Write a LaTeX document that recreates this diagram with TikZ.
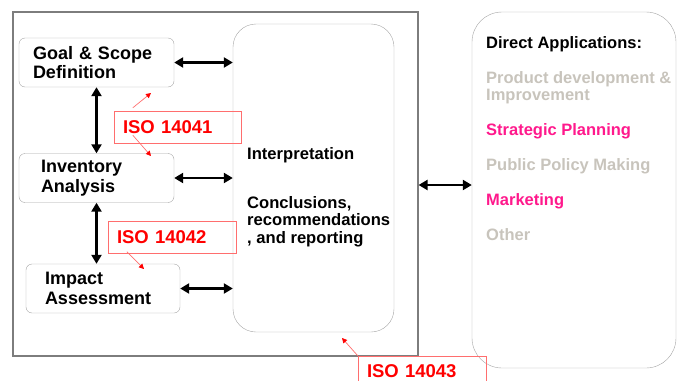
\documentclass[tikz,border=0pt]{standalone}
\usepackage{fontspec}
\setmainfont{Liberation Sans}
\usetikzlibrary{arrows.meta}

\definecolor{framegray}{RGB}{125,125,125}
\definecolor{boxgray}{RGB}{165,165,165}
\definecolor{palegray}{RGB}{200,196,188}
\definecolor{hotpink}{RGB}{255,25,140}
\definecolor{isored}{RGB}{255,0,0}
\definecolor{isoline}{RGB}{255,110,110}

\tikzset{
  stage/.style={draw=boxgray, rounded corners=6pt, minimum height=49pt, align=left,
    inner ysep=0pt, font=\fontsize{18}{19.5}\selectfont\bfseries},
  isobox/.style={draw=isoline, minimum height=32pt, align=left, inner xsep=9pt,
    text=isored, font=\fontsize{18.5}{20}\selectfont\bfseries},
  link/.style={line width=2.8pt,
    {Triangle[length=9pt,width=10pt]}-{Triangle[length=9pt,width=10pt]}},
  isoarrow/.style={isoline, line width=0.7pt,
    -{Triangle[length=5pt,width=5pt,color=isored]}}
}

\begin{document}
\begin{tikzpicture}[x=1pt,y=-1pt]
    \clip (0,0) rectangle (677,380);
    \node[draw=framegray, line width=1.2pt, minimum width=405pt, minimum height=344pt] (frame) at (215.5,184) {};

    % phases
    \node[stage, text width=127pt, inner xsep=14pt] (goal) at (96.5,62.5) {Goal \& Scope\\Definition};
    \node[stage, text width=111pt, inner xsep=22pt] (inventory) at (96.5,178) {Inventory\\Analysis};
    \node[stage, text width=116pt, inner xsep=19pt] (impact) at (103,288.5) {Impact\\Assessment};

    \node[draw=boxgray, rounded corners=23pt, minimum width=161pt, minimum height=308pt] (interp) at (313.5,178) {};
    \node[anchor=north west, inner sep=0pt, align=left, font=\fontsize{16.6}{17.5}\selectfont\bfseries] (interptext) at (247,147)
        {Interpretation\\[31.5pt]Conclusions,\\recommendations\\, and reporting};

    \node[draw=boxgray, rounded corners=30pt, minimum width=204pt, minimum height=356pt] (apps) at (574,190) {};
    \node[anchor=north west, inner sep=0pt, align=left, font=\fontsize{16.5}{17.5}\selectfont\bfseries] (appstext) at (486,36)
        {Direct Applications:\\[17.5pt]
         \textcolor{palegray}{Product development \&}\\
         \textcolor{palegray}{Improvement}\\[17.5pt]
         \textcolor{hotpink}{Strategic Planning}\\[17.5pt]
         \textcolor{palegray}{Public Policy Making}\\[17.5pt]
         \textcolor{hotpink}{Marketing}\\[17.5pt]
         \textcolor{palegray}{Other}};

    % links
    \draw[link] (goal.east) -- (goal.east -| interp.west);
    \draw[link] (inventory.east) -- (inventory.east -| interp.west);
    \draw[link] (impact.east) -- (impact.east -| interp.west);
    \draw[link] (goal.south) -- (inventory.north);
    \draw[link] (inventory.south) -- (inventory.south |- impact.north);
    \coordinate (appsrow) at (0,185);
    \draw[link] (frame.east |- appsrow) -- (apps.west |- appsrow);

    % standards
    \node[isobox, text width=109pt] (isoA) at (177.5,127) {ISO 14041};
    \node[isobox, text width=110pt] (isoB) at (172,237.5) {ISO 14042};
    \node[isobox, text width=110pt, minimum height=30pt] (isoC) at (422,371) {ISO 14043};
    \coordinate (isoAup) at (151,93);
    \coordinate (isoAdown) at (151,156);
    \coordinate (isoBdown) at (144,269);
    \coordinate (isoCup) at (342,338);
    \draw[isoarrow] ([xshift=19pt,yshift=3pt]isoA.north west) -- (isoAup);
    \draw[isoarrow] ([xshift=19pt,yshift=8pt]isoA.south west) -- (isoAdown);
    \draw[isoarrow] ([xshift=19pt,yshift=2pt]isoB.south west) -- (isoBdown);
    \draw[isoarrow] (isoC.north west) -- (isoCup);
\end{tikzpicture}
\end{document}
